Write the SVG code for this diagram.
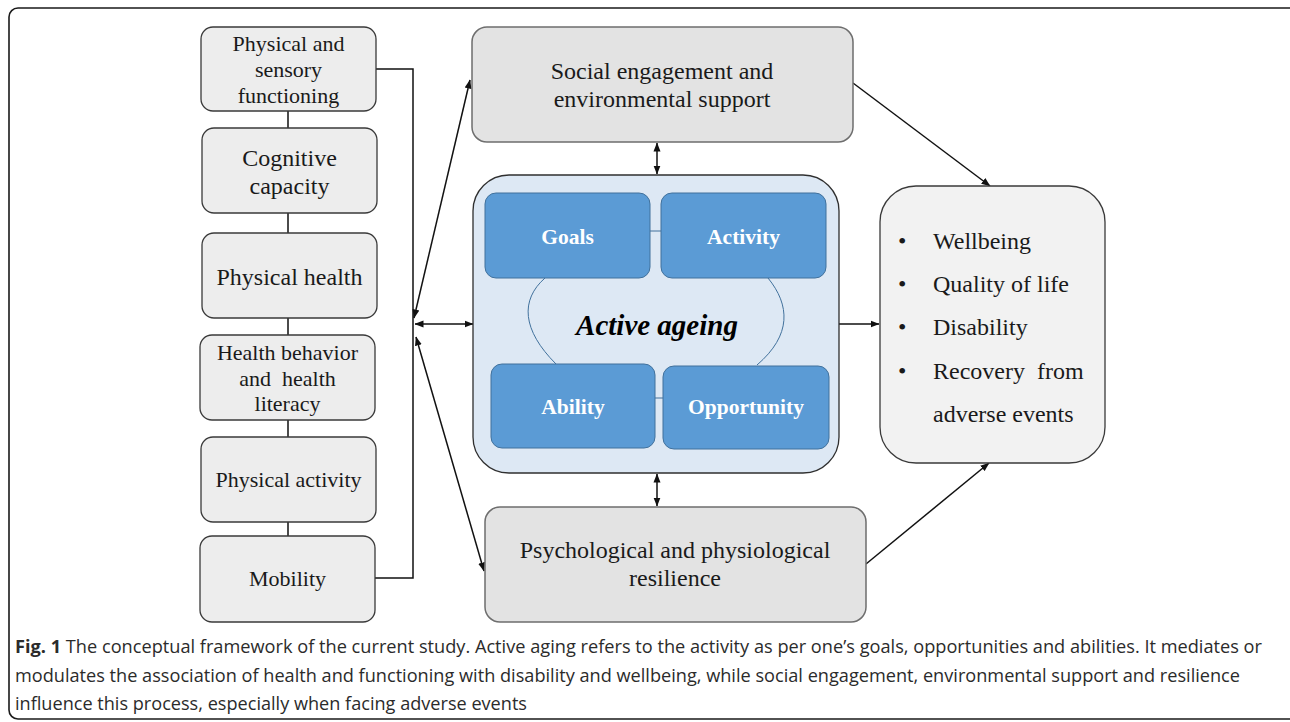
<svg xmlns="http://www.w3.org/2000/svg" width="1290" height="722" viewBox="0 0 1290 722">
<defs>
<style>
.lbox{fill:#ededed;stroke:#3a3a3a;stroke-width:1.3}
.gbox{fill:#e3e3e3;stroke:#6e6e6e;stroke-width:1.5}
.rbox{fill:#f2f2f2;stroke:#3a3a3a;stroke-width:1.3}
.cbox{fill:#dde8f4;stroke:#2f2f2f;stroke-width:1.3}
.bbox{fill:#5b9bd5;stroke:#41719c;stroke-width:1}
.t{font-family:"Liberation Serif","Times New Roman",serif;fill:#1a1a1a;text-anchor:middle}
.tl{font-family:"Liberation Serif","Times New Roman",serif;fill:#1a1a1a}
.bt{font-family:"Liberation Serif","Times New Roman",serif;fill:#ffffff;font-weight:bold;font-size:21.5px;text-anchor:middle}
.ai{font-family:"Liberation Serif","Times New Roman",serif;font-weight:bold;font-style:italic;font-size:29px;fill:#000;text-anchor:middle}
.cap{font-family:"Open Sans","Noto Sans",sans-serif;font-size:18px;fill:#2b2b2b}
.ln{fill:none;stroke:#111;stroke-width:1.5}
.thin{fill:none;stroke:#41719c;stroke-width:1}
</style>
<marker id="ah" markerWidth="9" markerHeight="8" refX="8.5" refY="4" orient="auto-start-reverse" markerUnits="userSpaceOnUse">
<path d="M0,0.5 L9,4 L0,7.5 Z" fill="#111"/>
</marker>
</defs>
<rect x="9" y="8" width="1292" height="711" rx="9" fill="#fff" stroke="#1a1a1a" stroke-width="1.6"/>

<g id="connectors">
<path class="ln" d="M288,111 V128 M288,213 V233 M288,318 V335 M288,420 V437 M288,522 V536"/>
<path class="ln" d="M376,69 H413 V578 H375"/>
<line class="ln" x1="414" y1="318" x2="470" y2="80" marker-start="url(#ah)" marker-end="url(#ah)"/>
<line class="ln" x1="415" y1="324" x2="473" y2="324" marker-start="url(#ah)" marker-end="url(#ah)"/>
<line class="ln" x1="416" y1="337" x2="484" y2="571" marker-start="url(#ah)" marker-end="url(#ah)"/>
<line class="ln" x1="657" y1="143" x2="657" y2="174" marker-start="url(#ah)" marker-end="url(#ah)"/>
<line class="ln" x1="657" y1="474" x2="657" y2="506" marker-start="url(#ah)" marker-end="url(#ah)"/>
<line class="ln" x1="839" y1="324" x2="879" y2="324" marker-end="url(#ah)"/>
<line class="ln" x1="853" y1="83" x2="990" y2="186" marker-end="url(#ah)"/>
<line class="ln" x1="866" y1="564" x2="989" y2="463" marker-end="url(#ah)"/>
</g>

<g id="n-physical-sensory"><rect class="lbox" x="201" y="27" width="175" height="84" rx="12"/>
<text class="t" font-size="22" x="288.5"><tspan x="288.5" y="51">Physical and</tspan><tspan x="288.5" y="77">sensory</tspan><tspan x="288.5" y="103">functioning</tspan></text></g>
<g id="n-cognitive"><rect class="lbox" x="202" y="128" width="175" height="85" rx="12"/>
<text class="t" font-size="24" x="289.5"><tspan x="289.5" y="166">Cognitive</tspan><tspan x="289.5" y="194">capacity</tspan></text></g>
<g id="n-physical-health"><rect class="lbox" x="202" y="233" width="175" height="85" rx="12"/>
<text class="t" font-size="24" x="289.5" y="285">Physical health</text></g>
<g id="n-health-behavior"><rect class="lbox" x="200" y="335" width="175" height="85" rx="12"/>
<text class="t" font-size="22" x="287.5" xml:space="preserve"><tspan x="287.5" y="360">Health behavior</tspan><tspan x="287.5" y="386">and  health</tspan><tspan x="287.5" y="411">literacy</tspan></text></g>
<g id="n-physical-activity"><rect class="lbox" x="201" y="437" width="175" height="85" rx="12"/>
<text class="t" font-size="22" x="288.5" y="487">Physical activity</text></g>
<g id="n-mobility"><rect class="lbox" x="200" y="536" width="175" height="86" rx="12"/>
<text class="t" font-size="22" x="287.5" y="586">Mobility</text></g>

<g id="n-social"><rect class="gbox" x="472" y="27" width="381" height="115" rx="15"/>
<text class="t" font-size="24" x="662"><tspan x="662" y="79">Social engagement and</tspan><tspan x="662" y="107">environmental support</tspan></text></g>

<g id="n-active-ageing"><rect class="cbox" x="473" y="175" width="366" height="298" rx="36"/>
<path class="thin" d="M545,278 C520,300 522,330 556,364"/>
<path class="thin" d="M768,278 C790,305 792,335 757,365"/>
<line class="thin" x1="650" y1="231" x2="661" y2="231"/>
<line class="thin" x1="655" y1="398" x2="663" y2="398"/>
<text class="ai" x="657" y="335">Active ageing</text>
</g>
<g id="n-goals"><rect class="bbox" x="485" y="193" width="165" height="85" rx="11"/><text class="bt" x="567.5" y="244">Goals</text></g>
<g id="n-activity"><rect class="bbox" x="661" y="193" width="165" height="85" rx="11"/><text class="bt" x="743.5" y="244">Activity</text></g>
<g id="n-ability"><rect class="bbox" x="491" y="364" width="164" height="84" rx="11"/><text class="bt" x="573" y="414">Ability</text></g>
<g id="n-opportunity"><rect class="bbox" x="663" y="366" width="166" height="83" rx="11"/><text class="bt" x="746" y="414">Opportunity</text></g>

<g id="n-psych"><rect class="gbox" x="485" y="507" width="381" height="115" rx="15"/>
<text class="t" font-size="24" x="675"><tspan x="675" y="558">Psychological and physiological</tspan><tspan x="675" y="586">resilience</tspan></text></g>

<g id="n-outcomes"><rect class="rbox" x="880" y="186" width="225" height="277" rx="36"/>
<g class="tl" font-size="24">
<text x="898" y="249">•</text><text x="933" y="249">Wellbeing</text>
<text x="898" y="292">•</text><text x="933" y="292">Quality of life</text>
<text x="898" y="335">•</text><text x="933" y="335">Disability</text>
<text x="898" y="379">•</text><text x="933" y="379" xml:space="preserve">Recovery  from</text>
<text x="933" y="422">adverse events</text>
</g></g>

<g id="caption">
<text class="cap" x="15" y="653" textLength="1247" lengthAdjust="spacingAndGlyphs"><tspan font-weight="bold">Fig. 1</tspan> The conceptual framework of the current study. Active aging refers to the activity as per one’s goals, opportunities and abilities. It mediates or</text>
<text class="cap" x="15" y="682" textLength="1225" lengthAdjust="spacingAndGlyphs">modulates the association of health and functioning with disability and wellbeing, while social engagement, environmental support and resilience</text>
<text class="cap" x="15" y="710" textLength="512" lengthAdjust="spacingAndGlyphs">influence this process, especially when facing adverse events</text>
</g>
</svg>
